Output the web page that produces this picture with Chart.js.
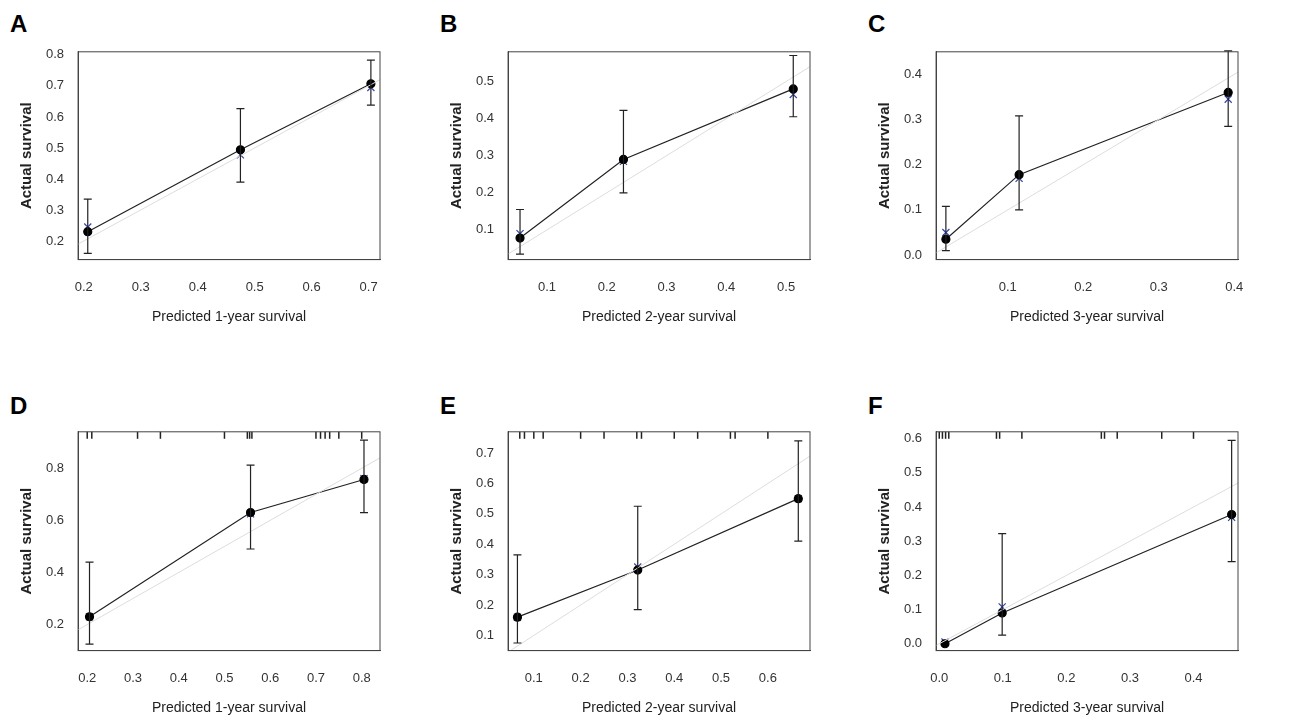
<!DOCTYPE html><html><head><meta charset="utf-8">
<script src="https://cdn.jsdelivr.net/npm/chart.js@4"></script>
<style>body{margin:0;background:#fff;width:1293px;height:721px;position:relative;font-family:Arial,"Liberation Sans",sans-serif}
.lb{position:absolute;font-weight:bold;font-size:24px}
.c{position:absolute;width:400px;height:292px}</style></head><body>
<div class="lb" style="left:10px;top:10px">A</div><div class="lb" style="left:440px;top:10px">B</div><div class="lb" style="left:868px;top:10px">C</div>
<div class="lb" style="left:10px;top:392px">D</div><div class="lb" style="left:440px;top:392px">E</div><div class="lb" style="left:868px;top:392px">F</div>
<script>
const panels=["A","B","C","D","E","F"];
const xTitles=["Predicted 1-year survival","Predicted 2-year survival","Predicted 3-year survival","Predicted 1-year survival","Predicted 2-year survival","Predicted 3-year survival"];
const predX=[[0.207,0.475,0.704],[0.055,0.228,0.512],[0.018,0.115,0.392],[0.205,0.557,0.805],[0.065,0.322,0.665],[0.009,0.099,0.46]];
const observed=[[0.23,0.494,0.707],[0.078,0.29,0.48],[0.035,0.178,0.36],[0.23,0.63,0.757],[0.16,0.315,0.55],[0,0.09,0.378]];
const lower=[[0.16,0.39,0.638],[0.035,0.2,0.405],[0.01,0.1,0.285],[0.125,0.49,0.63],[0.075,0.185,0.41],[0,0.025,0.24]];
const upper=[[0.335,0.627,0.783],[0.155,0.422,0.57],[0.108,0.308,0.452],[0.44,0.812,0.908],[0.365,0.525,0.74],[0,0.322,0.595]];
const corrected=[[0.245,0.478,0.695],[0.09,0.285,0.465],[0.05,0.17,0.345],[0.23,0.625,0.76],[0.16,0.325,0.55],[0.005,0.108,0.37]];
const rug=[[],[],[],[0.2,0.21,0.31,0.36,0.5,0.55,0.555,0.56,0.7,0.71,0.72,0.73,0.75,0.8],[0.07,0.08,0.1,0.12,0.2,0.25,0.32,0.33,0.4,0.45,0.52,0.53,0.6],[0.0,0.005,0.01,0.015,0.09,0.095,0.13,0.255,0.26,0.28,0.35,0.4]];
const xr=[[0.19,0.72],[0.035,0.54],[0.005,0.405],[0.18,0.84],[0.045,0.69],[-0.005,0.47]];
const yr=[[0.14,0.81],[0.02,0.58],[-0.01,0.45],[0.1,0.94],[0.05,0.77],[-0.02,0.62]];
const xStep=[0.1,0.1,0.1,0.1,0.1,0.1];
const yStep=[0.1,0.1,0.1,0.2,0.1,0.1];
const pos=[[0,38,292],[430,38,292],[858,38,292],[0,418,303],[430,418,303],[858,418,303]];
function mkTicks(min,max,step){const out=[];for(let k=Math.ceil(min/step-1e-6);k<=Math.floor(max/step+1e-6);k++)out.push({value:Math.round(k*step*100)/100});return out;}
const errPlugin={id:'err',afterDatasetsDraw(ch){const i=ch.options.plugins.err.i;const ctx=ch.ctx,x=ch.scales.x,y=ch.scales.y,a=ch.chartArea;
ctx.save();ctx.strokeStyle='#222';ctx.lineWidth=1.2;
predX[i].forEach((v,k)=>{if(upper[i][k]===lower[i][k])return;const px=x.getPixelForValue(v);const t=y.getPixelForValue(upper[i][k]),b=y.getPixelForValue(lower[i][k]);
ctx.beginPath();ctx.moveTo(px,t);ctx.lineTo(px,b);ctx.moveTo(px-4,t);ctx.lineTo(px+4,t);ctx.moveTo(px-4,b);ctx.lineTo(px+4,b);ctx.stroke();});
ctx.lineWidth=1.5;rug[i].forEach(v=>{const px=x.getPixelForValue(v);ctx.beginPath();ctx.moveTo(px,a.top);ctx.lineTo(px,a.top+7);ctx.stroke();});
ctx.strokeStyle='#444';ctx.lineWidth=1;ctx.strokeRect(a.left,a.top,a.right-a.left,a.bottom-a.top);ctx.restore();}};
panels.forEach((p,i)=>{const d=document.createElement('div');d.className='c';d.style.left=pos[i][0]+'px';d.style.top=pos[i][1]+'px';d.style.height=pos[i][2]+'px';
const cv=document.createElement('canvas');d.appendChild(cv);document.body.appendChild(d);
new Chart(cv,{type:'scatter',plugins:[errPlugin],data:{datasets:[
{data:[{x:xr[i][0],y:xr[i][0]},{x:xr[i][1],y:xr[i][1]}],showLine:true,borderColor:'#dddddd',borderWidth:1,pointRadius:0},
{data:predX[i].map((v,k)=>({x:v,y:observed[i][k]})),showLine:true,borderColor:'#222',borderWidth:1.2,pointRadius:4,pointBackgroundColor:'#000',pointBorderColor:'#000'},
{data:predX[i].map((v,k)=>({x:v,y:corrected[i][k]})),pointStyle:'crossRot',pointRadius:5,borderColor:'#3344aa',borderWidth:1.2}
]},options:{responsive:true,maintainAspectRatio:false,animation:false,layout:{padding:{top:12,right:20,left:14,bottom:0}},
plugins:{legend:{display:false},tooltip:{enabled:false},err:{i}},
scales:{x:{min:xr[i][0],max:xr[i][1],grid:{display:false},border:{color:'#444'},ticks:{color:'#333',padding:12,font:{size:13},callback:v=>(Math.abs(v)<1e-9?0:v).toFixed(1)},afterBuildTicks:s=>{s.ticks=mkTicks(xr[i][0],xr[i][1],xStep[i])},title:{display:true,text:xTitles[i],color:'#222',font:{size:14},padding:{top:2}}},
y:{min:yr[i][0],max:yr[i][1],grid:{display:false},border:{color:'#444'},ticks:{color:'#333',padding:6,font:{size:13},callback:v=>(Math.abs(v)<1e-9?0:v).toFixed(1)},afterBuildTicks:s=>{s.ticks=mkTicks(yr[i][0],yr[i][1],yStep[i])},title:{display:true,text:'Actual survival',color:'#222',font:{size:15,weight:'bold'}}}}}});});
</script></body></html>
